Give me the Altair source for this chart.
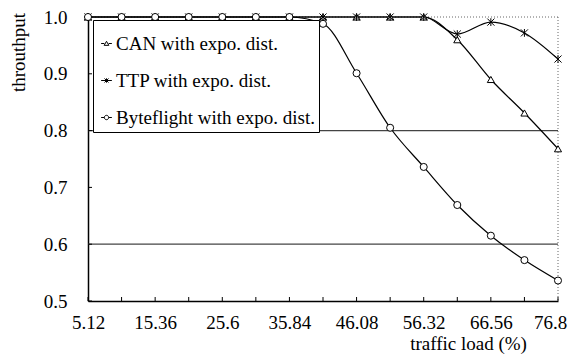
import altair as alt
import pandas as pd

loads = [5.12, 10.24, 15.36, 20.48, 25.6, 30.72, 35.84, 40.96, 46.08, 51.2, 56.32, 61.44, 66.56, 71.68, 76.8]
series_names = ["CAN with expo. dist.", "TTP with expo. dist.", "Byteflight with expo. dist."]
can = [1.0, 1.0, 1.0, 1.0, 1.0, 1.0, 1.0, 1.0, 1.0, 1.0, 1.0, 0.960, 0.890, 0.831, 0.768]
ttp = [1.0, 1.0, 1.0, 1.0, 1.0, 1.0, 1.0, 1.0, 1.0, 1.0, 1.0, 0.970, 0.991, 0.972, 0.926]
byteflight = [1.0, 1.0, 1.0, 1.0, 1.0, 1.0, 1.0, 0.988, 0.901, 0.805, 0.736, 0.669, 0.615, 0.572, 0.536]
x_labels = [5.12, 15.36, 25.6, 35.84, 46.08, 56.32, 66.56, 76.8]
y_ticks = [0.5, 0.6, 0.7, 0.8, 0.9, 1.0]
grid_values = [0.6, 0.8]

rows = []
for name, vals in zip(series_names, [can, ttp, byteflight]):
    for x, v in zip(loads, vals):
        rows.append({"load": x, "throughput": v, "series": name})
df = pd.DataFrame(rows)

FONT = "Liberation Serif"
ASTERISK = "M-1,-1L1,1M-1,1L1,-1M0,-1.1L0,1.1"
LEG_TRI = "M-1.6,0L-0.65,0M0.65,0L1.6,0M-0.7,0.55L0,-0.65L0.7,0.55Z"
LEG_AST = "M-1.6,0L1.6,0M-0.6,-0.6L0.6,0.6M-0.6,0.6L0.6,-0.6M0,-0.65L0,0.65"
LEG_CIR = "M-1.6,0L-0.65,0M0.65,0L1.6,0M0.65,0A0.65,0.65 0 1,1 -0.65,0A0.65,0.65 0 1,1 0.65,0Z"

xscale = alt.Scale(domain=[5.12, 76.8], nice=False, zero=False)
yscale = alt.Scale(domain=[0.5, 1.0], nice=False, zero=False)

label_list = "[" + ",".join(str(v) for v in x_labels) + "]"
xaxis = alt.Axis(values=loads,
                 labelExpr="indexof(" + label_list + ", datum.value) >= 0 ? toString(datum.value) : ''",
                 labelOffset={"condition": {"test": "datum.value == 76.8", "value": -8}, "value": 0},
                 title="traffic load (%)", titleX=380, titleY=42, titleBaseline="middle", titleAlign="center",
                 labelPadding=12, labelFlush=False, grid=False, ticks=False, tickSize=0, domainColor="black",
                 domainWidth=1.5, labelFont=FONT, labelFontSize=19, labelColor="black", titleFont=FONT,
                 titleFontSize=19, titleFontWeight="normal", titleColor="black", labelOverlap=False)
yaxis = alt.Axis(values=y_ticks, format=".1f", title="throuthput", titleX=-70, titleY=35, titleAngle=270,
                 titleBaseline="middle", titleAlign="center", labelPadding=21, labelFlush=False, grid=False,
                 ticks=False, tickSize=0, domainColor="black", domainWidth=1.5, labelFont=FONT, labelFontSize=19,
                 labelColor="black", titleFont=FONT, titleFontSize=19, titleFontWeight="normal", titleColor="black")

X = alt.X("load:Q", scale=xscale, axis=xaxis)
Y = alt.Y("throughput:Q", scale=yscale, axis=yaxis)

grid = alt.Chart(pd.DataFrame({"throughput": grid_values})).mark_rule(color="#444", strokeWidth=1.3).encode(y=Y)
top_border = alt.Chart(pd.DataFrame({"throughput": [1.0]})).mark_rule(color="#666", strokeDash=[1, 2]).encode(y=Y)
right_border = alt.Chart(pd.DataFrame({"load": [76.8]})).mark_rule(color="#666", strokeDash=[1, 2]).encode(x=X)
xticks = alt.Chart(pd.DataFrame({"load": loads})).mark_rule(color="black").encode(
    x=X, y=alt.datum(0.5, scale=yscale), y2=alt.value(280))
yticks = alt.Chart(pd.DataFrame({"throughput": y_ticks})).mark_rule(color="black").encode(
    y=Y, x=alt.datum(5.12, scale=xscale), x2=alt.value(4))

lines = alt.Chart(df).mark_line(color="black", strokeWidth=1.2, interpolate="monotone").encode(
    x=X, y=Y, detail="series:N")

points = alt.Chart(df).mark_point(filled=True, fill="white", stroke="black", strokeWidth=1, size=50, opacity=1).encode(
    x=X, y=Y,
    shape=alt.Shape("series:N", scale=alt.Scale(domain=series_names, range=["triangle-up", ASTERISK, "circle"]),
                    legend=None))

legend_layer = alt.Chart(df).transform_filter("datum.load < 0").mark_point(
    filled=False, color="black", strokeWidth=1, size=45, opacity=1).encode(
    x=X, y=Y,
    shape=alt.Shape("series:N", scale=alt.Scale(domain=series_names, range=[LEG_TRI, LEG_AST, LEG_CIR]),
                    legend=alt.Legend(title=" ", titleFontSize=10, titlePadding=0, orient="none",
                                      legendX=5, legendY=3, fillColor="white", strokeColor="black",
                                      padding=4, rowPadding=17, labelFont=FONT, labelFontSize=19,
                                      labelColor="black", symbolSize=45, symbolOpacity=1,
                                      symbolStrokeColor="black", symbolStrokeWidth=1,
                                      labelOffset=0, labelLimit=400)))

chart = alt.layer(grid, top_border, right_border, xticks, yticks, lines, points, legend_layer).resolve_scale(
    shape="independent"
).properties(
    width=470, height=284,
    autosize=alt.AutoSizeParams(type="none"),
    padding={"left": 80, "top": 9, "right": 11, "bottom": 55},
).configure_view(stroke=None)

chart.save("out.html", embed_options={"renderer": "svg", "actions": False})
